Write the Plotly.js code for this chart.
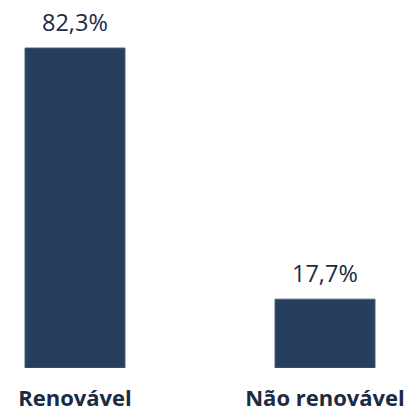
<!DOCTYPE html>
<html>
<head>
<meta charset="utf-8">
<script src="https://cdn.plot.ly/plotly-3.0.1.min.js"></script>
<style>
  html, body { margin: 0; padding: 0; background: #fff; }
  #chart { width: 414px; height: 417px; }
</style>
</head>
<body>
<div id="chart"></div>
<script>
// categories and shares (%)
let categories = ["Renovável", "Não renovável"];
let shares = [82.3, 17.7];
let shareLabels = ["82,3%", "17,7%"];

let barColor = "#273f5f";
let textColor = "#1b2b45";

let trace1 = {
    x: categories,
    y: shares,
    type: "bar",
    width: 0.4,
    marker: { color: barColor, line: { color: "#4a5f7c", width: 1 } },
    hoverinfo: "none"
};

// value labels above bars
let notes = categories.map(function (c, i) {
    return {
        x: c,
        y: shares[i],
        text: shareLabels[i],
        showarrow: false,
        yanchor: "bottom",
        yshift: 8,
        font: { family: "Open Sans", size: 23.5, color: textColor }
    };
});

var layout = {
    width: 414,
    height: 417,
    margin: { l: 0, r: 14, t: 0, b: 49 },
    paper_bgcolor: "#fff",
    plot_bgcolor: "#fff",
    showlegend: false,
    xaxis: {
        range: [-0.3, 1.3],
        showline: false,
        showgrid: false,
        zeroline: false,
        ticks: "",
        ticklabelstandoff: 15,
        tickfont: { family: "Open Sans", size: 22, color: textColor, weight: "bold" }
    },
    yaxis: {
        range: [0, 94.65],
        visible: false
    },
    annotations: notes
};

Plotly.newPlot("chart", [trace1], layout, { staticPlot: true });
</script>
</body>
</html>
